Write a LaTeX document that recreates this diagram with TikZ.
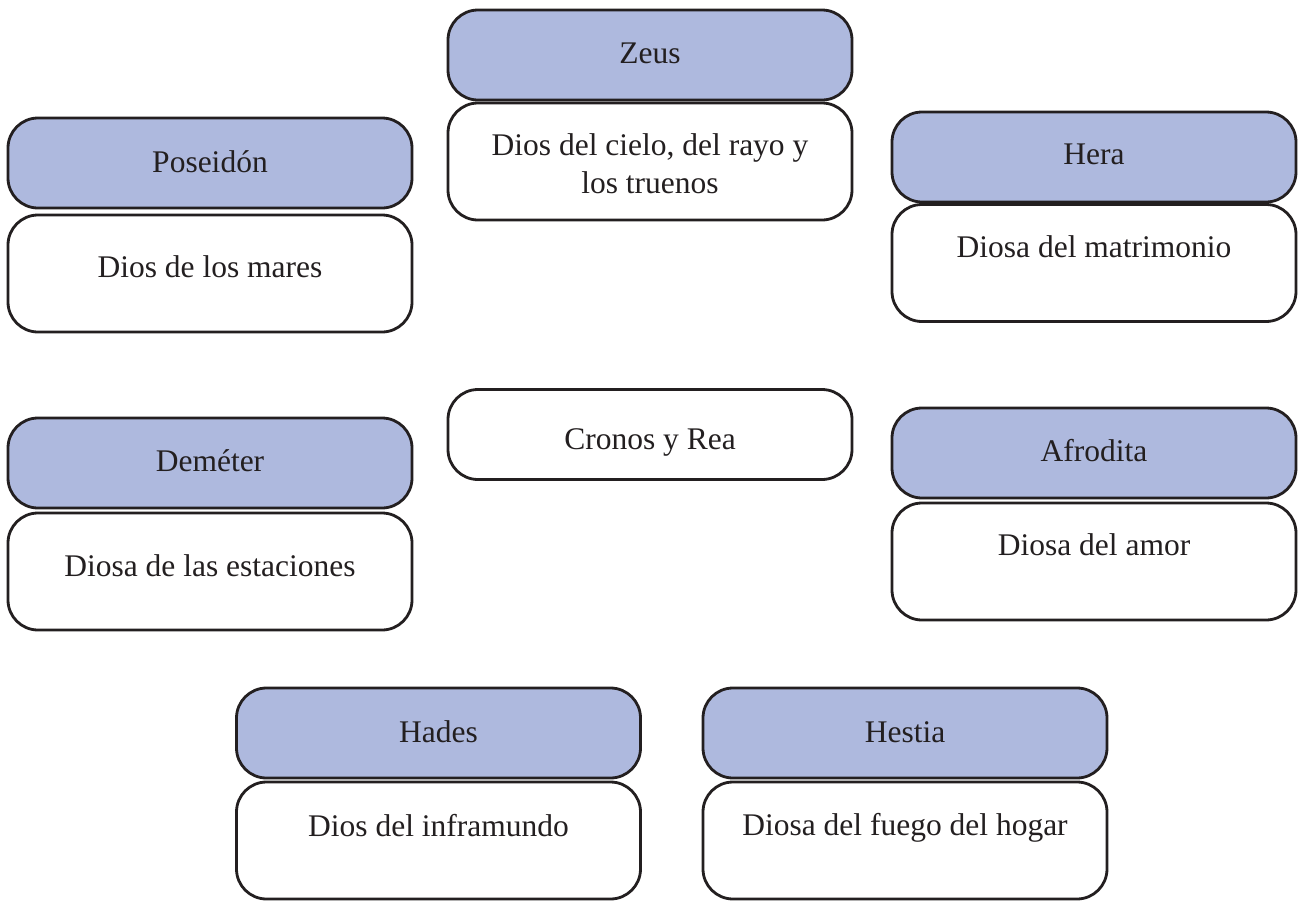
\documentclass[tikz,border=0pt]{standalone}
\usepackage{fontspec}
\setmainfont{Liberation Serif}
\definecolor{godblue}{RGB}{174,185,222}
\definecolor{ink}{RGB}{35,31,32}
\tikzset{
  boxbase/.style={draw=ink, line width=2.8pt, rounded corners=30pt, inner sep=0pt, minimum width=404pt},
  hdr/.style={boxbase, fill=godblue, minimum height=90pt},
  bodybox/.style={boxbase, fill=white, minimum height=117pt},
  cronbox/.style={boxbase, fill=white, minimum height=90pt},
  lbl/.style={font=\fontsize{31.5}{38}\selectfont, text=ink, anchor=base, inner sep=0pt, align=center}
}
\begin{document}
\begin{tikzpicture}[x=1pt, y=-1pt]
\useasboundingbox (0,0) rectangle (1299,900);
% Zeus
\node[hdr] (zeusH) at (650,55) {};
\node[bodybox] (zeusB) at (650,161.5) {};
\node[lbl] (zeusN) at (650,63) {Zeus};
\node[lbl] (zeusD) at (650,193) {Dios del cielo, del rayo y\\los truenos};
% Poseidon
\node[hdr] (posH) at (210,163) {};
\node[bodybox] (posB) at (210,273.5) {};
\node[lbl] (posN) at (210,172) {Poseidón};
\node[lbl] (posD) at (210,277) {Dios de los mares};
% Hera
\node[hdr] (herH) at (1094,157) {};
\node[bodybox] (herB) at (1094,263) {};
\node[lbl] (herN) at (1094,164) {Hera};
\node[lbl] (herD) at (1094,257) {Diosa del matrimonio};
% Cronos y Rea
\node[cronbox] (cron) at (650,434.5) {};
\node[lbl] (cronN) at (650,449) {Cronos y Rea};
% Demeter
\node[hdr] (demH) at (210,463) {};
\node[bodybox] (demB) at (210,571.5) {};
\node[lbl] (demN) at (210,471) {Deméter};
\node[lbl] (demD) at (210,576) {Diosa de las estaciones};
% Afrodita
\node[hdr] (afrH) at (1094,453) {};
\node[bodybox] (afrB) at (1094,561.5) {};
\node[lbl] (afrN) at (1094,461) {Afrodita};
\node[lbl] (afrD) at (1094,555) {Diosa del amor};
% Hades
\node[hdr] (hadH) at (438.5,733) {};
\node[bodybox] (hadB) at (438.5,840.5) {};
\node[lbl] (hadN) at (438.5,742) {Hades};
\node[lbl] (hadD) at (438.5,836) {Dios del inframundo};
% Hestia
\node[hdr] (hesH) at (905,733) {};
\node[bodybox] (hesB) at (905,840.5) {};
\node[lbl] (hesN) at (905,742) {Hestia};
\node[lbl] (hesD) at (905,835) {Diosa del fuego del hogar};
\end{tikzpicture}
\end{document}
